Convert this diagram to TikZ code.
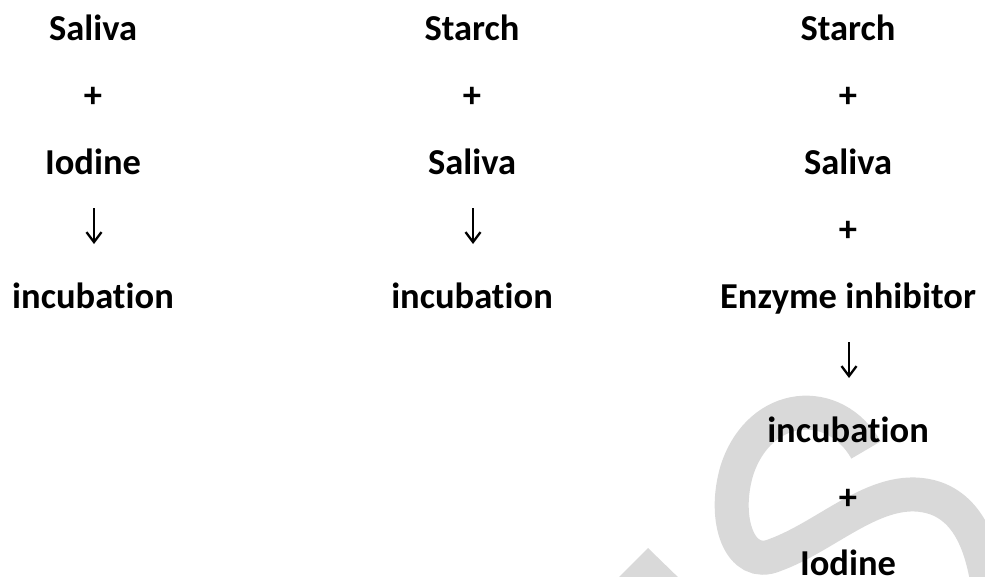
\documentclass[tikz,border=0pt]{standalone}
\usepackage{fontspec}
\setmainfont{Carlito}[Ligatures=NoCommon]
\usetikzlibrary{arrows.meta}
\definecolor{wmgray}{HTML}{D9D9D9}
\tikzset{
  lbl/.style={anchor=base, inner sep=0pt, font=\fontsize{36.5}{44}\selectfont\bfseries},
  flow/.style={line width=2.3pt, -{Straight Barb[length=10pt,width=15pt,line width=2.3pt]}},
}
\begin{document}
\begin{tikzpicture}[x=1pt,y=-1pt]
\useasboundingbox (0,0) rectangle (985,576);
\clip (0,0) rectangle (985,576);

% faint watermark strokes behind the text
\draw[wmgray, line width=34pt, line cap=butt]
  (866,450) .. controls (835,395) and (760,400) .. (737,470)
  .. controls (722,520) and (740,570) .. (775,555)
  .. controls (830,535) and (880,480) .. (935,498)
  .. controls (975,512) and (985,560) .. (990,600);
\fill[wmgray] (614,582) -- (648,548) -- (683,582) -- cycle;

% column 1
\node[lbl] (c1a) at (93,40) {Saliva};
\node[lbl] (c1p) at (93,107) {+};
\node[lbl] (c1b) at (93,174) {Iodine};
\node[lbl] (c1c) at (93,308) {incubation};
\coordinate (c1s) at (94,208);
\coordinate (c1e) at (94,244);
\draw[flow] (c1s) -- (c1e);

% column 2
\node[lbl] (c2a) at (472,40) {Starch};
\node[lbl] (c2p) at (472,107) {+};
\node[lbl] (c2b) at (472,174) {Saliva};
\node[lbl] (c2c) at (472,308) {incubation};
\coordinate (c2s) at (473,208);
\coordinate (c2e) at (473,244);
\draw[flow] (c2s) -- (c2e);

% column 3
\node[lbl] (c3a) at (848,40) {Starch};
\node[lbl] (c3p) at (848,107) {+};
\node[lbl] (c3b) at (848,174) {Saliva};
\node[lbl] (c3q) at (848,241) {+};
\node[lbl] (c3c) at (848,308) {Enzyme inhibitor};
\node[lbl] (c3d) at (848,442) {incubation};
\node[lbl] (c3r) at (848,509) {+};
\node[lbl] (c3e) at (848,575) {Iodine};
\coordinate (c3s) at (849,342);
\coordinate (c3t) at (849,378);
\draw[flow] (c3s) -- (c3t);
\end{tikzpicture}
\end{document}
